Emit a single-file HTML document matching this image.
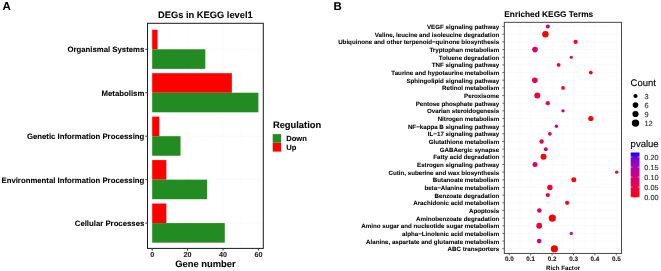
<!DOCTYPE html>
<html><head><meta charset="utf-8"><style>
html,body{margin:0;padding:0;background:#fff;}
body{width:661px;height:271px;overflow:hidden;}
svg{display:block;will-change:transform;}
text{font-family:"Liberation Sans",sans-serif;text-rendering:geometricPrecision;}
</style></head><body>
<svg width="661" height="271" viewBox="0 0 661 271">

<text transform="translate(2.60 9.50) scale(1 1.0)" font-size="11.5" font-weight="bold" text-anchor="start" fill="#000" stroke="#000" stroke-width="0.08">A</text>
<text transform="translate(333.50 9.70) scale(1 1.0)" font-size="11.4" font-weight="bold" text-anchor="start" fill="#000" stroke="#000" stroke-width="0.08">B</text>
<line x1="169.90" y1="23.30" x2="169.90" y2="248.40" stroke="#f6f6f6" stroke-width="0.35"/>
<line x1="205.30" y1="23.30" x2="205.30" y2="248.40" stroke="#f6f6f6" stroke-width="0.35"/>
<line x1="240.70" y1="23.30" x2="240.70" y2="248.40" stroke="#f6f6f6" stroke-width="0.35"/>
<line x1="152.20" y1="23.30" x2="152.20" y2="248.40" stroke="#f6f6f6" stroke-width="0.6"/>
<line x1="187.60" y1="23.30" x2="187.60" y2="248.40" stroke="#f6f6f6" stroke-width="0.6"/>
<line x1="223.00" y1="23.30" x2="223.00" y2="248.40" stroke="#f6f6f6" stroke-width="0.6"/>
<line x1="258.40" y1="23.30" x2="258.40" y2="248.40" stroke="#f6f6f6" stroke-width="0.6"/>
<line x1="147.50" y1="49.30" x2="263.30" y2="49.30" stroke="#f6f6f6" stroke-width="0.6"/>
<line x1="147.50" y1="92.75" x2="263.30" y2="92.75" stroke="#f6f6f6" stroke-width="0.6"/>
<line x1="147.50" y1="136.20" x2="263.30" y2="136.20" stroke="#f6f6f6" stroke-width="0.6"/>
<line x1="147.50" y1="179.65" x2="263.30" y2="179.65" stroke="#f6f6f6" stroke-width="0.6"/>
<line x1="147.50" y1="223.10" x2="263.30" y2="223.10" stroke="#f6f6f6" stroke-width="0.6"/>
<rect x="152.20" y="29.75" width="5.31" height="19.55" fill="#ff0000" stroke="none" stroke-width="0"/>
<rect x="152.20" y="49.30" width="53.10" height="19.55" fill="#228b22" stroke="none" stroke-width="0"/>
<rect x="152.20" y="73.20" width="79.65" height="19.55" fill="#ff0000" stroke="none" stroke-width="0"/>
<rect x="152.20" y="92.75" width="106.20" height="19.55" fill="#228b22" stroke="none" stroke-width="0"/>
<rect x="152.20" y="116.65" width="7.08" height="19.55" fill="#ff0000" stroke="none" stroke-width="0"/>
<rect x="152.20" y="136.20" width="28.32" height="19.55" fill="#228b22" stroke="none" stroke-width="0"/>
<rect x="152.20" y="160.10" width="14.16" height="19.55" fill="#ff0000" stroke="none" stroke-width="0"/>
<rect x="152.20" y="179.65" width="54.87" height="19.55" fill="#228b22" stroke="none" stroke-width="0"/>
<rect x="152.20" y="203.55" width="14.16" height="19.55" fill="#ff0000" stroke="none" stroke-width="0"/>
<rect x="152.20" y="223.10" width="72.57" height="19.55" fill="#228b22" stroke="none" stroke-width="0"/>
<rect x="147.50" y="23.30" width="115.80" height="225.10" fill="none" stroke="#1a1a1a" stroke-width="1.0"/>
<line x1="145.30" y1="49.30" x2="147.50" y2="49.30" stroke="#333" stroke-width="1.0"/>
<line x1="145.30" y1="92.75" x2="147.50" y2="92.75" stroke="#333" stroke-width="1.0"/>
<line x1="145.30" y1="136.20" x2="147.50" y2="136.20" stroke="#333" stroke-width="1.0"/>
<line x1="145.30" y1="179.65" x2="147.50" y2="179.65" stroke="#333" stroke-width="1.0"/>
<line x1="145.30" y1="223.10" x2="147.50" y2="223.10" stroke="#333" stroke-width="1.0"/>
<line x1="152.20" y1="248.40" x2="152.20" y2="250.60" stroke="#333" stroke-width="1.0"/>
<line x1="187.60" y1="248.40" x2="187.60" y2="250.60" stroke="#333" stroke-width="1.0"/>
<line x1="223.00" y1="248.40" x2="223.00" y2="250.60" stroke="#333" stroke-width="1.0"/>
<line x1="258.40" y1="248.40" x2="258.40" y2="250.60" stroke="#333" stroke-width="1.0"/>
<text transform="translate(144.30 52.30) scale(1 1.0)" font-size="7.78" font-weight="bold" text-anchor="end" fill="#000" stroke="#000" stroke-width="0.08">Organismal Systems</text>
<text transform="translate(144.30 95.75) scale(1 1.0)" font-size="7.78" font-weight="bold" text-anchor="end" fill="#000" stroke="#000" stroke-width="0.08">Metabolism</text>
<text transform="translate(144.30 139.20) scale(1 1.0)" font-size="7.78" font-weight="bold" text-anchor="end" fill="#000" stroke="#000" stroke-width="0.08">Genetic Information Processing</text>
<text transform="translate(144.30 182.65) scale(1 1.0)" font-size="7.78" font-weight="bold" text-anchor="end" fill="#000" stroke="#000" stroke-width="0.08">Environmental Information Processing</text>
<text transform="translate(144.30 226.10) scale(1 1.0)" font-size="7.78" font-weight="bold" text-anchor="end" fill="#000" stroke="#000" stroke-width="0.08">Cellular Processes</text>
<text transform="translate(152.20 257.00) scale(1 1.0)" font-size="7.2" font-weight="bold" text-anchor="middle" fill="#222" stroke="#222" stroke-width="0.08">0</text>
<text transform="translate(187.60 257.00) scale(1 1.0)" font-size="7.2" font-weight="bold" text-anchor="middle" fill="#222" stroke="#222" stroke-width="0.08">20</text>
<text transform="translate(223.00 257.00) scale(1 1.0)" font-size="7.2" font-weight="bold" text-anchor="middle" fill="#222" stroke="#222" stroke-width="0.08">40</text>
<text transform="translate(258.40 257.00) scale(1 1.0)" font-size="7.2" font-weight="bold" text-anchor="middle" fill="#222" stroke="#222" stroke-width="0.08">60</text>
<text transform="translate(205.40 18.30) scale(1 1.0)" font-size="9.3" font-weight="bold" text-anchor="middle" fill="#000" stroke="#000" stroke-width="0.08">DEGs in KEGG level1</text>
<text transform="translate(205.40 267.00) scale(1 1.0)" font-size="9.38" font-weight="bold" text-anchor="middle" fill="#000" stroke="#000" stroke-width="0.08">Gene number</text>
<text transform="translate(272.90 127.60) scale(1 1.0)" font-size="9.35" font-weight="bold" text-anchor="start" fill="#000" stroke="#000" stroke-width="0.08">Regulation</text>
<rect x="272.70" y="134.10" width="8.40" height="8.70" fill="#228b22" stroke="none" stroke-width="0"/>
<rect x="272.70" y="143.00" width="8.40" height="8.60" fill="#ff0000" stroke="none" stroke-width="0"/>
<text transform="translate(286.20 140.50) scale(1 1.0)" font-size="7.6" font-weight="bold" text-anchor="start" fill="#000" stroke="#000" stroke-width="0.08">Down</text>
<text transform="translate(286.20 149.70) scale(1 1.0)" font-size="7.6" font-weight="bold" text-anchor="start" fill="#000" stroke="#000" stroke-width="0.08">Up</text>
<line x1="520.00" y1="22.30" x2="520.00" y2="253.40" stroke="#f6f6f6" stroke-width="0.35"/>
<line x1="541.40" y1="22.30" x2="541.40" y2="253.40" stroke="#f6f6f6" stroke-width="0.35"/>
<line x1="562.80" y1="22.30" x2="562.80" y2="253.40" stroke="#f6f6f6" stroke-width="0.35"/>
<line x1="584.20" y1="22.30" x2="584.20" y2="253.40" stroke="#f6f6f6" stroke-width="0.35"/>
<line x1="605.60" y1="22.30" x2="605.60" y2="253.40" stroke="#f6f6f6" stroke-width="0.35"/>
<line x1="509.30" y1="22.30" x2="509.30" y2="253.40" stroke="#f6f6f6" stroke-width="0.6"/>
<line x1="530.70" y1="22.30" x2="530.70" y2="253.40" stroke="#f6f6f6" stroke-width="0.6"/>
<line x1="552.10" y1="22.30" x2="552.10" y2="253.40" stroke="#f6f6f6" stroke-width="0.6"/>
<line x1="573.50" y1="22.30" x2="573.50" y2="253.40" stroke="#f6f6f6" stroke-width="0.6"/>
<line x1="594.90" y1="22.30" x2="594.90" y2="253.40" stroke="#f6f6f6" stroke-width="0.6"/>
<line x1="616.30" y1="22.30" x2="616.30" y2="253.40" stroke="#f6f6f6" stroke-width="0.6"/>
<line x1="504.30" y1="26.60" x2="621.50" y2="26.60" stroke="#f6f6f6" stroke-width="0.6"/>
<line x1="504.30" y1="34.26" x2="621.50" y2="34.26" stroke="#f6f6f6" stroke-width="0.6"/>
<line x1="504.30" y1="41.92" x2="621.50" y2="41.92" stroke="#f6f6f6" stroke-width="0.6"/>
<line x1="504.30" y1="49.58" x2="621.50" y2="49.58" stroke="#f6f6f6" stroke-width="0.6"/>
<line x1="504.30" y1="57.24" x2="621.50" y2="57.24" stroke="#f6f6f6" stroke-width="0.6"/>
<line x1="504.30" y1="64.90" x2="621.50" y2="64.90" stroke="#f6f6f6" stroke-width="0.6"/>
<line x1="504.30" y1="72.56" x2="621.50" y2="72.56" stroke="#f6f6f6" stroke-width="0.6"/>
<line x1="504.30" y1="80.22" x2="621.50" y2="80.22" stroke="#f6f6f6" stroke-width="0.6"/>
<line x1="504.30" y1="87.88" x2="621.50" y2="87.88" stroke="#f6f6f6" stroke-width="0.6"/>
<line x1="504.30" y1="95.54" x2="621.50" y2="95.54" stroke="#f6f6f6" stroke-width="0.6"/>
<line x1="504.30" y1="103.20" x2="621.50" y2="103.20" stroke="#f6f6f6" stroke-width="0.6"/>
<line x1="504.30" y1="110.86" x2="621.50" y2="110.86" stroke="#f6f6f6" stroke-width="0.6"/>
<line x1="504.30" y1="118.52" x2="621.50" y2="118.52" stroke="#f6f6f6" stroke-width="0.6"/>
<line x1="504.30" y1="126.18" x2="621.50" y2="126.18" stroke="#f6f6f6" stroke-width="0.6"/>
<line x1="504.30" y1="133.84" x2="621.50" y2="133.84" stroke="#f6f6f6" stroke-width="0.6"/>
<line x1="504.30" y1="141.50" x2="621.50" y2="141.50" stroke="#f6f6f6" stroke-width="0.6"/>
<line x1="504.30" y1="149.16" x2="621.50" y2="149.16" stroke="#f6f6f6" stroke-width="0.6"/>
<line x1="504.30" y1="156.82" x2="621.50" y2="156.82" stroke="#f6f6f6" stroke-width="0.6"/>
<line x1="504.30" y1="164.48" x2="621.50" y2="164.48" stroke="#f6f6f6" stroke-width="0.6"/>
<line x1="504.30" y1="172.14" x2="621.50" y2="172.14" stroke="#f6f6f6" stroke-width="0.6"/>
<line x1="504.30" y1="179.80" x2="621.50" y2="179.80" stroke="#f6f6f6" stroke-width="0.6"/>
<line x1="504.30" y1="187.46" x2="621.50" y2="187.46" stroke="#f6f6f6" stroke-width="0.6"/>
<line x1="504.30" y1="195.12" x2="621.50" y2="195.12" stroke="#f6f6f6" stroke-width="0.6"/>
<line x1="504.30" y1="202.78" x2="621.50" y2="202.78" stroke="#f6f6f6" stroke-width="0.6"/>
<line x1="504.30" y1="210.44" x2="621.50" y2="210.44" stroke="#f6f6f6" stroke-width="0.6"/>
<line x1="504.30" y1="218.10" x2="621.50" y2="218.10" stroke="#f6f6f6" stroke-width="0.6"/>
<line x1="504.30" y1="225.76" x2="621.50" y2="225.76" stroke="#f6f6f6" stroke-width="0.6"/>
<line x1="504.30" y1="233.42" x2="621.50" y2="233.42" stroke="#f6f6f6" stroke-width="0.6"/>
<line x1="504.30" y1="241.08" x2="621.50" y2="241.08" stroke="#f6f6f6" stroke-width="0.6"/>
<line x1="504.30" y1="248.74" x2="621.50" y2="248.74" stroke="#f6f6f6" stroke-width="0.6"/>
<circle cx="547.80" cy="26.60" r="2.00" fill="#d60073"/>
<circle cx="545.40" cy="34.26" r="3.20" fill="#ff0000"/>
<circle cx="575.60" cy="41.92" r="2.10" fill="#fb0018"/>
<circle cx="535.00" cy="49.58" r="2.80" fill="#dc0069"/>
<circle cx="571.30" cy="57.24" r="1.60" fill="#e1005e"/>
<circle cx="558.60" cy="64.90" r="1.90" fill="#f30034"/>
<circle cx="590.80" cy="72.56" r="1.90" fill="#fb0018"/>
<circle cx="534.80" cy="80.22" r="2.80" fill="#eb004a"/>
<circle cx="563.00" cy="87.88" r="1.90" fill="#f70027"/>
<circle cx="537.30" cy="95.54" r="3.00" fill="#f30034"/>
<circle cx="547.80" cy="103.20" r="2.10" fill="#ef003f"/>
<circle cx="563.00" cy="110.86" r="1.70" fill="#d1007d"/>
<circle cx="590.80" cy="118.52" r="2.60" fill="#ff0000"/>
<circle cx="556.40" cy="126.18" r="1.70" fill="#d1007d"/>
<circle cx="549.90" cy="133.84" r="1.90" fill="#dc0069"/>
<circle cx="541.60" cy="141.50" r="2.20" fill="#e60054"/>
<circle cx="545.80" cy="149.16" r="2.00" fill="#d1007d"/>
<circle cx="543.50" cy="156.82" r="3.00" fill="#ff0000"/>
<circle cx="535.00" cy="164.48" r="2.50" fill="#d9006e"/>
<circle cx="616.70" cy="172.14" r="1.70" fill="#fb0018"/>
<circle cx="573.80" cy="179.80" r="2.50" fill="#ff0000"/>
<circle cx="549.90" cy="187.46" r="2.70" fill="#f70027"/>
<circle cx="547.80" cy="195.12" r="2.10" fill="#ef003f"/>
<circle cx="567.10" cy="202.78" r="2.10" fill="#f70027"/>
<circle cx="539.30" cy="210.44" r="2.30" fill="#de0063"/>
<circle cx="552.30" cy="218.10" r="3.60" fill="#ff0000"/>
<circle cx="539.20" cy="225.76" r="2.90" fill="#ef003f"/>
<circle cx="571.30" cy="233.42" r="1.60" fill="#d40078"/>
<circle cx="539.10" cy="241.08" r="2.30" fill="#d60073"/>
<circle cx="554.40" cy="248.74" r="3.60" fill="#ff0000"/>
<rect x="504.30" y="22.30" width="117.20" height="231.10" fill="none" stroke="#333" stroke-width="0.9"/>
<line x1="502.30" y1="26.60" x2="504.30" y2="26.60" stroke="#333" stroke-width="0.7"/>
<line x1="502.30" y1="34.26" x2="504.30" y2="34.26" stroke="#333" stroke-width="0.7"/>
<line x1="502.30" y1="41.92" x2="504.30" y2="41.92" stroke="#333" stroke-width="0.7"/>
<line x1="502.30" y1="49.58" x2="504.30" y2="49.58" stroke="#333" stroke-width="0.7"/>
<line x1="502.30" y1="57.24" x2="504.30" y2="57.24" stroke="#333" stroke-width="0.7"/>
<line x1="502.30" y1="64.90" x2="504.30" y2="64.90" stroke="#333" stroke-width="0.7"/>
<line x1="502.30" y1="72.56" x2="504.30" y2="72.56" stroke="#333" stroke-width="0.7"/>
<line x1="502.30" y1="80.22" x2="504.30" y2="80.22" stroke="#333" stroke-width="0.7"/>
<line x1="502.30" y1="87.88" x2="504.30" y2="87.88" stroke="#333" stroke-width="0.7"/>
<line x1="502.30" y1="95.54" x2="504.30" y2="95.54" stroke="#333" stroke-width="0.7"/>
<line x1="502.30" y1="103.20" x2="504.30" y2="103.20" stroke="#333" stroke-width="0.7"/>
<line x1="502.30" y1="110.86" x2="504.30" y2="110.86" stroke="#333" stroke-width="0.7"/>
<line x1="502.30" y1="118.52" x2="504.30" y2="118.52" stroke="#333" stroke-width="0.7"/>
<line x1="502.30" y1="126.18" x2="504.30" y2="126.18" stroke="#333" stroke-width="0.7"/>
<line x1="502.30" y1="133.84" x2="504.30" y2="133.84" stroke="#333" stroke-width="0.7"/>
<line x1="502.30" y1="141.50" x2="504.30" y2="141.50" stroke="#333" stroke-width="0.7"/>
<line x1="502.30" y1="149.16" x2="504.30" y2="149.16" stroke="#333" stroke-width="0.7"/>
<line x1="502.30" y1="156.82" x2="504.30" y2="156.82" stroke="#333" stroke-width="0.7"/>
<line x1="502.30" y1="164.48" x2="504.30" y2="164.48" stroke="#333" stroke-width="0.7"/>
<line x1="502.30" y1="172.14" x2="504.30" y2="172.14" stroke="#333" stroke-width="0.7"/>
<line x1="502.30" y1="179.80" x2="504.30" y2="179.80" stroke="#333" stroke-width="0.7"/>
<line x1="502.30" y1="187.46" x2="504.30" y2="187.46" stroke="#333" stroke-width="0.7"/>
<line x1="502.30" y1="195.12" x2="504.30" y2="195.12" stroke="#333" stroke-width="0.7"/>
<line x1="502.30" y1="202.78" x2="504.30" y2="202.78" stroke="#333" stroke-width="0.7"/>
<line x1="502.30" y1="210.44" x2="504.30" y2="210.44" stroke="#333" stroke-width="0.7"/>
<line x1="502.30" y1="218.10" x2="504.30" y2="218.10" stroke="#333" stroke-width="0.7"/>
<line x1="502.30" y1="225.76" x2="504.30" y2="225.76" stroke="#333" stroke-width="0.7"/>
<line x1="502.30" y1="233.42" x2="504.30" y2="233.42" stroke="#333" stroke-width="0.7"/>
<line x1="502.30" y1="241.08" x2="504.30" y2="241.08" stroke="#333" stroke-width="0.7"/>
<line x1="502.30" y1="248.74" x2="504.30" y2="248.74" stroke="#333" stroke-width="0.7"/>
<line x1="509.30" y1="253.40" x2="509.30" y2="255.40" stroke="#333" stroke-width="0.7"/>
<line x1="530.70" y1="253.40" x2="530.70" y2="255.40" stroke="#333" stroke-width="0.7"/>
<line x1="552.10" y1="253.40" x2="552.10" y2="255.40" stroke="#333" stroke-width="0.7"/>
<line x1="573.50" y1="253.40" x2="573.50" y2="255.40" stroke="#333" stroke-width="0.7"/>
<line x1="594.90" y1="253.40" x2="594.90" y2="255.40" stroke="#333" stroke-width="0.7"/>
<line x1="616.30" y1="253.40" x2="616.30" y2="255.40" stroke="#333" stroke-width="0.7"/>
<text transform="translate(499.20 29.05) scale(1 1.0)" font-size="6.2" font-weight="bold" text-anchor="end" fill="#000" stroke="#000" stroke-width="0.07">VEGF signaling pathway</text>
<text transform="translate(499.20 36.71) scale(1 1.0)" font-size="6.2" font-weight="bold" text-anchor="end" fill="#000" stroke="#000" stroke-width="0.07">Valine, leucine and isoleucine degradation</text>
<text transform="translate(499.20 44.37) scale(1 1.0)" font-size="6.2" font-weight="bold" text-anchor="end" fill="#000" stroke="#000" stroke-width="0.07">Ubiquinone and other terpenoid−quinone biosynthesis</text>
<text transform="translate(499.20 52.03) scale(1 1.0)" font-size="6.2" font-weight="bold" text-anchor="end" fill="#000" stroke="#000" stroke-width="0.07">Tryptophan metabolism</text>
<text transform="translate(499.20 59.69) scale(1 1.0)" font-size="6.2" font-weight="bold" text-anchor="end" fill="#000" stroke="#000" stroke-width="0.07">Toluene degradation</text>
<text transform="translate(499.20 67.35) scale(1 1.0)" font-size="6.2" font-weight="bold" text-anchor="end" fill="#000" stroke="#000" stroke-width="0.07">TNF signaling pathway</text>
<text transform="translate(499.20 75.01) scale(1 1.0)" font-size="6.2" font-weight="bold" text-anchor="end" fill="#000" stroke="#000" stroke-width="0.07">Taurine and hypotaurine metabolism</text>
<text transform="translate(499.20 82.67) scale(1 1.0)" font-size="6.2" font-weight="bold" text-anchor="end" fill="#000" stroke="#000" stroke-width="0.07">Sphingolipid signaling pathway</text>
<text transform="translate(499.20 90.33) scale(1 1.0)" font-size="6.2" font-weight="bold" text-anchor="end" fill="#000" stroke="#000" stroke-width="0.07">Retinol metabolism</text>
<text transform="translate(499.20 97.99) scale(1 1.0)" font-size="6.2" font-weight="bold" text-anchor="end" fill="#000" stroke="#000" stroke-width="0.07">Peroxisome</text>
<text transform="translate(499.20 105.65) scale(1 1.0)" font-size="6.2" font-weight="bold" text-anchor="end" fill="#000" stroke="#000" stroke-width="0.07">Pentose phosphate pathway</text>
<text transform="translate(499.20 113.31) scale(1 1.0)" font-size="6.2" font-weight="bold" text-anchor="end" fill="#000" stroke="#000" stroke-width="0.07">Ovarian steroidogenesis</text>
<text transform="translate(499.20 120.97) scale(1 1.0)" font-size="6.2" font-weight="bold" text-anchor="end" fill="#000" stroke="#000" stroke-width="0.07">Nitrogen metabolism</text>
<text transform="translate(499.20 128.63) scale(1 1.0)" font-size="6.2" font-weight="bold" text-anchor="end" fill="#000" stroke="#000" stroke-width="0.07">NF−kappa B signaling pathway</text>
<text transform="translate(499.20 136.29) scale(1 1.0)" font-size="6.2" font-weight="bold" text-anchor="end" fill="#000" stroke="#000" stroke-width="0.07">IL−17 signaling pathway</text>
<text transform="translate(499.20 143.95) scale(1 1.0)" font-size="6.2" font-weight="bold" text-anchor="end" fill="#000" stroke="#000" stroke-width="0.07">Glutathione metabolism</text>
<text transform="translate(499.20 151.61) scale(1 1.0)" font-size="6.2" font-weight="bold" text-anchor="end" fill="#000" stroke="#000" stroke-width="0.07">GABAergic synapse</text>
<text transform="translate(499.20 159.27) scale(1 1.0)" font-size="6.2" font-weight="bold" text-anchor="end" fill="#000" stroke="#000" stroke-width="0.07">Fatty acid degradation</text>
<text transform="translate(499.20 166.93) scale(1 1.0)" font-size="6.2" font-weight="bold" text-anchor="end" fill="#000" stroke="#000" stroke-width="0.07">Estrogen signaling pathway</text>
<text transform="translate(499.20 174.59) scale(1 1.0)" font-size="6.2" font-weight="bold" text-anchor="end" fill="#000" stroke="#000" stroke-width="0.07">Cutin, suberine and wax biosynthesis</text>
<text transform="translate(499.20 182.25) scale(1 1.0)" font-size="6.2" font-weight="bold" text-anchor="end" fill="#000" stroke="#000" stroke-width="0.07">Butanoate metabolism</text>
<text transform="translate(499.20 189.91) scale(1 1.0)" font-size="6.2" font-weight="bold" text-anchor="end" fill="#000" stroke="#000" stroke-width="0.07">beta−Alanine metabolism</text>
<text transform="translate(499.20 197.57) scale(1 1.0)" font-size="6.2" font-weight="bold" text-anchor="end" fill="#000" stroke="#000" stroke-width="0.07">Benzoate degradation</text>
<text transform="translate(499.20 205.23) scale(1 1.0)" font-size="6.2" font-weight="bold" text-anchor="end" fill="#000" stroke="#000" stroke-width="0.07">Arachidonic acid metabolism</text>
<text transform="translate(499.20 212.89) scale(1 1.0)" font-size="6.2" font-weight="bold" text-anchor="end" fill="#000" stroke="#000" stroke-width="0.07">Apoptosis</text>
<text transform="translate(499.20 220.55) scale(1 1.0)" font-size="6.2" font-weight="bold" text-anchor="end" fill="#000" stroke="#000" stroke-width="0.07">Aminobenzoate degradation</text>
<text transform="translate(499.20 228.21) scale(1 1.0)" font-size="6.2" font-weight="bold" text-anchor="end" fill="#000" stroke="#000" stroke-width="0.07">Amino sugar and nucleotide sugar metabolism</text>
<text transform="translate(499.20 235.87) scale(1 1.0)" font-size="6.2" font-weight="bold" text-anchor="end" fill="#000" stroke="#000" stroke-width="0.07">alpha−Linolenic acid metabolism</text>
<text transform="translate(499.20 243.53) scale(1 1.0)" font-size="6.2" font-weight="bold" text-anchor="end" fill="#000" stroke="#000" stroke-width="0.07">Alanine, aspartate and glutamate metabolism</text>
<text transform="translate(499.20 251.19) scale(1 1.0)" font-size="6.2" font-weight="bold" text-anchor="end" fill="#000" stroke="#000" stroke-width="0.07">ABC transporters</text>
<text transform="translate(509.30 260.60) scale(1 1.0)" font-size="6.3" font-weight="bold" text-anchor="middle" fill="#222" stroke="#222" stroke-width="0.12">0.0</text>
<text transform="translate(530.70 260.60) scale(1 1.0)" font-size="6.3" font-weight="bold" text-anchor="middle" fill="#222" stroke="#222" stroke-width="0.12">0.1</text>
<text transform="translate(552.10 260.60) scale(1 1.0)" font-size="6.3" font-weight="bold" text-anchor="middle" fill="#222" stroke="#222" stroke-width="0.12">0.2</text>
<text transform="translate(573.50 260.60) scale(1 1.0)" font-size="6.3" font-weight="bold" text-anchor="middle" fill="#222" stroke="#222" stroke-width="0.12">0.3</text>
<text transform="translate(594.90 260.60) scale(1 1.0)" font-size="6.3" font-weight="bold" text-anchor="middle" fill="#222" stroke="#222" stroke-width="0.12">0.4</text>
<text transform="translate(616.30 260.60) scale(1 1.0)" font-size="6.3" font-weight="bold" text-anchor="middle" fill="#222" stroke="#222" stroke-width="0.12">0.5</text>
<text transform="translate(504.30 17.40) scale(1 1.0)" font-size="8.3" font-weight="bold" text-anchor="start" fill="#000" stroke="#000" stroke-width="0.08">Enriched KEGG Terms</text>
<text transform="translate(563.10 269.50) scale(1 1.0)" font-size="6.2" font-weight="bold" text-anchor="middle" fill="#000" stroke="#000" stroke-width="0">Rich Factor</text>
<text transform="translate(630.60 85.80) scale(1 1.0)" font-size="9.5" font-weight="normal" text-anchor="start" fill="#000" stroke="#000" stroke-width="0.14">Count</text>
<circle cx="635.50" cy="96.00" r="2.10" fill="#000"/>
<text transform="translate(644.50 98.60) scale(1 1.0)" font-size="7.4" font-weight="normal" text-anchor="start" fill="#333" stroke="#333" stroke-width="0.14">3</text>
<circle cx="635.50" cy="105.10" r="2.80" fill="#000"/>
<text transform="translate(644.50 107.70) scale(1 1.0)" font-size="7.4" font-weight="normal" text-anchor="start" fill="#333" stroke="#333" stroke-width="0.14">6</text>
<circle cx="635.50" cy="114.00" r="3.10" fill="#000"/>
<text transform="translate(644.50 116.60) scale(1 1.0)" font-size="7.4" font-weight="normal" text-anchor="start" fill="#333" stroke="#333" stroke-width="0.14">9</text>
<circle cx="635.50" cy="123.10" r="3.70" fill="#000"/>
<text transform="translate(644.50 125.70) scale(1 1.0)" font-size="7.4" font-weight="normal" text-anchor="start" fill="#333" stroke="#333" stroke-width="0.14">12</text>
<text transform="translate(630.60 146.90) scale(1 1.0)" font-size="9.5" font-weight="normal" text-anchor="start" fill="#000" stroke="#000" stroke-width="0.14">pvalue</text>
<defs><linearGradient id="pg" x1="0" y1="1" x2="0" y2="0">
<stop offset="0.00" stop-color="#ff0000"/>
<stop offset="0.10" stop-color="#f6002a"/>
<stop offset="0.20" stop-color="#ed0044"/>
<stop offset="0.30" stop-color="#e3005b"/>
<stop offset="0.40" stop-color="#d70072"/>
<stop offset="0.50" stop-color="#ca0088"/>
<stop offset="0.60" stop-color="#ba009f"/>
<stop offset="0.70" stop-color="#a600b7"/>
<stop offset="0.80" stop-color="#8d00ce"/>
<stop offset="0.90" stop-color="#6800e7"/>
<stop offset="1.00" stop-color="#0000ff"/>
</linearGradient></defs>
<rect x="630.70" y="152.50" width="8.80" height="44.80" fill="url(#pg)" stroke="none" stroke-width="0"/>
<text transform="translate(644.30 199.70) scale(1 1.0)" font-size="7.3" font-weight="normal" text-anchor="start" fill="#333" stroke="#333" stroke-width="0.14">0.00</text>
<line x1="630.70" y1="197.10" x2="632.50" y2="197.10" stroke="#fff" stroke-width="0.5"/>
<line x1="637.70" y1="197.10" x2="639.50" y2="197.10" stroke="#fff" stroke-width="0.5"/>
<text transform="translate(644.30 189.70) scale(1 1.0)" font-size="7.3" font-weight="normal" text-anchor="start" fill="#333" stroke="#333" stroke-width="0.14">0.05</text>
<line x1="630.70" y1="187.10" x2="632.50" y2="187.10" stroke="#fff" stroke-width="0.5"/>
<line x1="637.70" y1="187.10" x2="639.50" y2="187.10" stroke="#fff" stroke-width="0.5"/>
<text transform="translate(644.30 179.70) scale(1 1.0)" font-size="7.3" font-weight="normal" text-anchor="start" fill="#333" stroke="#333" stroke-width="0.14">0.10</text>
<line x1="630.70" y1="177.10" x2="632.50" y2="177.10" stroke="#fff" stroke-width="0.5"/>
<line x1="637.70" y1="177.10" x2="639.50" y2="177.10" stroke="#fff" stroke-width="0.5"/>
<text transform="translate(644.30 169.70) scale(1 1.0)" font-size="7.3" font-weight="normal" text-anchor="start" fill="#333" stroke="#333" stroke-width="0.14">0.15</text>
<line x1="630.70" y1="167.10" x2="632.50" y2="167.10" stroke="#fff" stroke-width="0.5"/>
<line x1="637.70" y1="167.10" x2="639.50" y2="167.10" stroke="#fff" stroke-width="0.5"/>
<text transform="translate(644.30 159.70) scale(1 1.0)" font-size="7.3" font-weight="normal" text-anchor="start" fill="#333" stroke="#333" stroke-width="0.14">0.20</text>
<line x1="630.70" y1="157.10" x2="632.50" y2="157.10" stroke="#fff" stroke-width="0.5"/>
<line x1="637.70" y1="157.10" x2="639.50" y2="157.10" stroke="#fff" stroke-width="0.5"/>
</svg>
</body></html>
